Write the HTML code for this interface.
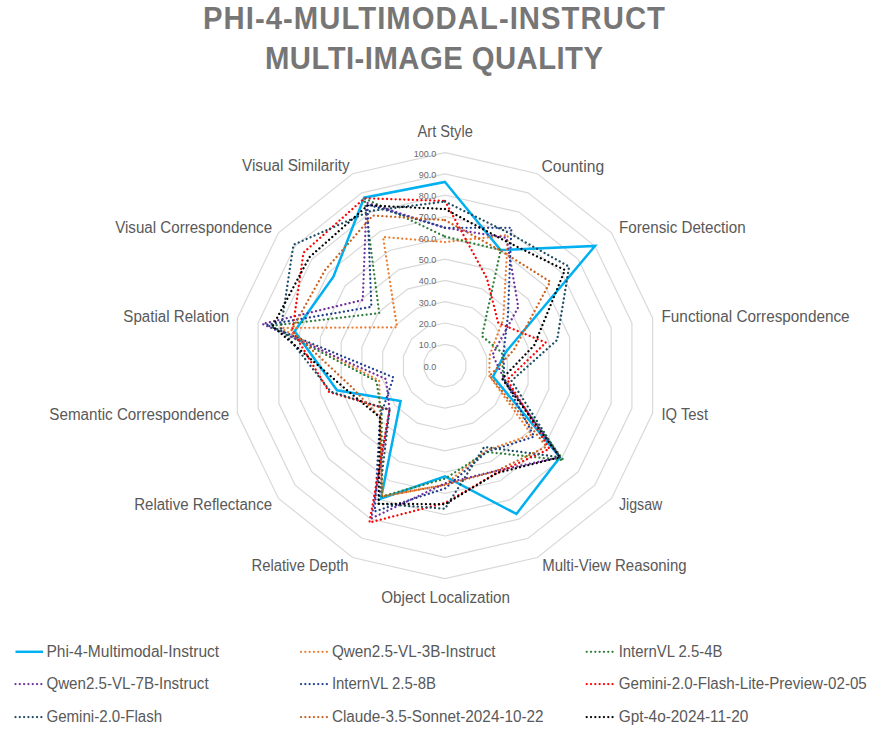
<!DOCTYPE html><html><head><meta charset="utf-8"><style>html,body{margin:0;padding:0;background:#fff;width:873px;height:729px;overflow:hidden}svg{display:block}text{font-family:"Liberation Sans",sans-serif}</style></head><body>
<svg width="873" height="729" viewBox="0 0 873 729">
<rect width="873" height="729" fill="#fff"/>
<text transform="translate(203.0,28.9) scale(0.93,1)" font-size="31.5" font-weight="bold" fill="#767676" textLength="496.77" lengthAdjust="spacing">PHI-4-MULTIMODAL-INSTRUCT</text>
<text transform="translate(265.0,69.3) scale(0.93,1)" font-size="31.5" font-weight="bold" fill="#767676" textLength="363.44" lengthAdjust="spacing">MULTI-IMAGE QUALITY</text>
<polygon points="445.00,344.30 454.24,346.41 461.65,352.32 465.77,360.86 465.77,370.34 461.65,378.88 454.24,384.79 445.00,386.90 435.76,384.79 428.35,378.88 424.23,370.34 424.23,360.86 428.35,352.32 435.76,346.41" fill="none" stroke="#d9d9d9" stroke-width="1.2"/>
<polygon points="445.00,323.00 463.48,327.22 478.31,339.04 486.53,356.12 486.53,375.08 478.31,392.16 463.48,403.98 445.00,408.20 426.52,403.98 411.69,392.16 403.47,375.08 403.47,356.12 411.69,339.04 426.52,327.22" fill="none" stroke="#d9d9d9" stroke-width="1.2"/>
<polygon points="445.00,301.70 472.73,308.03 494.96,325.76 507.30,351.38 507.30,379.82 494.96,405.44 472.73,423.17 445.00,429.50 417.27,423.17 395.04,405.44 382.70,379.82 382.70,351.38 395.04,325.76 417.27,308.03" fill="none" stroke="#d9d9d9" stroke-width="1.2"/>
<polygon points="445.00,280.40 481.97,288.84 511.61,312.48 528.06,346.64 528.06,384.56 511.61,418.72 481.97,442.36 445.00,450.80 408.03,442.36 378.39,418.72 361.94,384.56 361.94,346.64 378.39,312.48 408.03,288.84" fill="none" stroke="#d9d9d9" stroke-width="1.2"/>
<polygon points="445.00,259.10 491.21,269.65 528.27,299.20 548.83,341.90 548.83,389.30 528.27,432.00 491.21,461.55 445.00,472.10 398.79,461.55 361.73,432.00 341.17,389.30 341.17,341.90 361.73,299.20 398.79,269.65" fill="none" stroke="#d9d9d9" stroke-width="1.2"/>
<polygon points="445.00,237.80 500.45,250.46 544.92,285.92 569.60,337.16 569.60,394.04 544.92,445.28 500.45,480.74 445.00,493.40 389.55,480.74 345.08,445.28 320.40,394.04 320.40,337.16 345.08,285.92 389.55,250.46" fill="none" stroke="#d9d9d9" stroke-width="1.2"/>
<polygon points="445.00,216.50 509.69,231.27 561.57,272.64 590.36,332.42 590.36,398.78 561.57,458.56 509.69,499.93 445.00,514.70 380.31,499.93 328.43,458.56 299.64,398.78 299.64,332.42 328.43,272.64 380.31,231.27" fill="none" stroke="#d9d9d9" stroke-width="1.2"/>
<polygon points="445.00,195.20 518.93,212.07 578.22,259.36 611.13,327.68 611.13,403.52 578.22,471.84 518.93,519.13 445.00,536.00 371.07,519.13 311.78,471.84 278.87,403.52 278.87,327.68 311.78,259.36 371.07,212.07" fill="none" stroke="#d9d9d9" stroke-width="1.2"/>
<polygon points="445.00,173.90 528.18,192.88 594.88,246.08 631.89,322.94 631.89,408.26 594.88,485.12 528.18,538.32 445.00,557.30 361.82,538.32 295.12,485.12 258.11,408.26 258.11,322.94 295.12,246.08 361.82,192.88" fill="none" stroke="#d9d9d9" stroke-width="1.2"/>
<polygon points="445.00,152.60 537.42,173.69 611.53,232.80 652.66,318.20 652.66,413.00 611.53,498.40 537.42,557.51 445.00,578.60 352.58,557.51 278.47,498.40 237.34,413.00 237.34,318.20 278.47,232.80 352.58,173.69" fill="none" stroke="#d9d9d9" stroke-width="1.2"/>
<text x="436.3" y="369.50" font-size="9" fill="#6a6a6a" text-anchor="end">0.0</text>
<text x="436.3" y="348.20" font-size="9" fill="#6a6a6a" text-anchor="end">10.0</text>
<text x="436.3" y="326.90" font-size="9" fill="#6a6a6a" text-anchor="end">20.0</text>
<text x="436.3" y="305.60" font-size="9" fill="#6a6a6a" text-anchor="end">30.0</text>
<text x="436.3" y="284.30" font-size="9" fill="#6a6a6a" text-anchor="end">40.0</text>
<text x="436.3" y="263.00" font-size="9" fill="#6a6a6a" text-anchor="end">50.0</text>
<text x="436.3" y="241.70" font-size="9" fill="#6a6a6a" text-anchor="end">60.0</text>
<text x="436.3" y="220.40" font-size="9" fill="#6a6a6a" text-anchor="end">70.0</text>
<text x="436.3" y="199.10" font-size="9" fill="#6a6a6a" text-anchor="end">80.0</text>
<text x="436.3" y="177.80" font-size="9" fill="#6a6a6a" text-anchor="end">90.0</text>
<text x="436.3" y="156.50" font-size="9" fill="#6a6a6a" text-anchor="end">100.0</text>
<text x="417.6" y="137.3" font-size="16" fill="#595959" textLength="55.2" lengthAdjust="spacingAndGlyphs">Art Style</text>
<text x="541.4" y="172.2" font-size="16" fill="#595959" textLength="62.7" lengthAdjust="spacingAndGlyphs">Counting</text>
<text x="619" y="232.9" font-size="16" fill="#595959" textLength="126.6" lengthAdjust="spacingAndGlyphs">Forensic Detection</text>
<text x="661.5" y="321.9" font-size="16" fill="#595959" textLength="188.1" lengthAdjust="spacingAndGlyphs">Functional Correspondence</text>
<text x="661.5" y="420.3" font-size="16" fill="#595959" textLength="46.5" lengthAdjust="spacingAndGlyphs">IQ Test</text>
<text x="619" y="510" font-size="16" fill="#595959" textLength="43.3" lengthAdjust="spacingAndGlyphs">Jigsaw</text>
<text x="542.2" y="570.8" font-size="16" fill="#595959" textLength="144.4" lengthAdjust="spacingAndGlyphs">Multi-View Reasoning</text>
<text x="381.2" y="603.1" font-size="16" fill="#595959" textLength="128.9" lengthAdjust="spacingAndGlyphs">Object Localization</text>
<text x="251.5" y="570.8" font-size="16" fill="#595959" textLength="97.1" lengthAdjust="spacingAndGlyphs">Relative Depth</text>
<text x="134.2" y="510" font-size="16" fill="#595959" textLength="137.9" lengthAdjust="spacingAndGlyphs">Relative Reflectance</text>
<text x="49.3" y="420.3" font-size="16" fill="#595959" textLength="180.0" lengthAdjust="spacingAndGlyphs">Semantic Correspondence</text>
<text x="123.3" y="322.1" font-size="16" fill="#595959" textLength="106.0" lengthAdjust="spacingAndGlyphs">Spatial Relation</text>
<text x="115.2" y="233.2" font-size="16" fill="#595959" textLength="156.9" lengthAdjust="spacingAndGlyphs">Visual Correspondence</text>
<text x="242" y="171.4" font-size="16" fill="#595959" textLength="107.7" lengthAdjust="spacingAndGlyphs">Visual Similarity</text>
<polygon points="445.00,181.99 500.64,250.07 595.04,245.94 506.05,351.67 492.97,376.55 559.91,457.23 516.44,513.94 445.00,476.36 380.95,498.59 400.54,401.06 337.02,390.25 294.65,331.28 333.42,276.62 364.13,197.68" fill="none" stroke="#00B0F0" stroke-width="2.5" stroke-linejoin="miter"/>
<polygon points="445.00,242.06 507.84,235.10 503.29,319.12 489.65,355.41 489.23,375.70 531.60,434.66 485.94,450.61 445.00,484.67 381.97,496.48 380.05,417.39 379.17,380.62 279.91,327.92 397.04,327.35 383.08,237.02" fill="none" stroke="#ED7D31" stroke-width="2.3" stroke-dasharray="0.01 4.3" stroke-linecap="round" stroke-linejoin="round"/>
<polygon points="445.00,236.52 500.73,249.88 481.97,336.12 501.90,352.61 503.14,378.87 563.57,460.16 486.59,451.96 445.00,478.70 381.97,496.48 381.72,416.07 376.47,381.24 270.57,325.79 379.22,313.14 364.41,198.26" fill="none" stroke="#2F7F3A" stroke-width="2.3" stroke-dasharray="0.01 4.3" stroke-linecap="round" stroke-linejoin="round"/>
<polygon points="445.00,227.79 506.55,237.79 518.27,307.17 492.55,354.75 504.18,379.11 559.91,457.23 495.74,470.96 445.00,483.39 371.44,518.36 389.55,409.82 386.02,379.06 262.47,323.94 362.73,300.00 366.54,202.67" fill="none" stroke="#7030A0" stroke-width="2.3" stroke-dasharray="0.01 4.3" stroke-linecap="round" stroke-linejoin="round"/>
<polygon points="445.00,227.79 511.36,227.81 507.95,315.40 503.56,352.23 504.18,379.11 534.09,436.65 486.59,451.96 445.00,488.50 374.76,511.45 380.05,417.39 393.50,377.35 266.41,324.84 371.39,306.90 367.37,204.40" fill="none" stroke="#223F8F" stroke-width="2.3" stroke-dasharray="0.01 4.3" stroke-linecap="round" stroke-linejoin="round"/>
<polygon points="445.00,200.95 486.96,278.47 498.29,323.10 545.92,342.57 507.30,379.82 549.41,448.87 496.75,473.07 445.00,502.99 369.40,522.58 389.55,409.82 329.13,392.05 292.37,330.76 303.45,252.72 364.41,198.26" fill="none" stroke="#FF0000" stroke-width="2.3" stroke-dasharray="0.01 4.3" stroke-linecap="round" stroke-linejoin="round"/>
<polygon points="445.00,201.59 508.86,232.99 569.06,266.66 557.14,340.01 511.45,380.77 559.91,457.23 484.18,446.97 445.00,508.74 378.46,503.77 389.55,409.82 330.79,391.67 280.95,328.16 293.46,244.75 370.51,210.92" fill="none" stroke="#1D4B61" stroke-width="2.3" stroke-dasharray="0.01 4.3" stroke-linecap="round" stroke-linejoin="round"/>
<polygon points="445.00,220.12 500.45,250.46 550.25,281.67 513.94,349.86 489.65,375.79 546.58,446.61 495.83,471.15 445.00,484.88 381.97,496.48 380.05,417.39 351.55,386.93 291.33,330.53 325.10,269.98 372.73,215.53" fill="none" stroke="#C8601E" stroke-width="2.3" stroke-dasharray="0.01 4.3" stroke-linecap="round" stroke-linejoin="round"/>
<polygon points="445.00,209.05 505.07,240.86 564.90,269.98 534.29,345.22 502.11,378.63 559.91,457.23 496.75,473.07 445.00,504.26 378.46,503.77 380.05,417.39 344.91,388.45 272.64,326.26 309.28,257.37 367.83,205.36" fill="none" stroke="#000000" stroke-width="2.3" stroke-dasharray="0.01 4.3" stroke-linecap="round" stroke-linejoin="round"/>
<line x1="15.5" y1="651.8" x2="43" y2="651.8" stroke="#00B0F0" stroke-width="2.5"/>
<text x="46.4" y="656.8" font-size="16" fill="#595959" textLength="172.8" lengthAdjust="spacingAndGlyphs">Phi-4-Multimodal-Instruct</text>
<line x1="301" y1="651.8" x2="330" y2="651.8" stroke="#ED7D31" stroke-width="2.3" stroke-dasharray="0.01 4.3" stroke-linecap="round"/>
<text x="331.9" y="656.8" font-size="16" fill="#595959" textLength="163.6" lengthAdjust="spacingAndGlyphs">Qwen2.5-VL-3B-Instruct</text>
<line x1="586.7" y1="651.8" x2="614.2" y2="651.8" stroke="#2F7F3A" stroke-width="2.3" stroke-dasharray="0.01 4.3" stroke-linecap="round"/>
<text x="618.7" y="656.8" font-size="16" fill="#595959" textLength="103.8" lengthAdjust="spacingAndGlyphs">InternVL 2.5-4B</text>
<line x1="15.5" y1="684.1" x2="43" y2="684.1" stroke="#7030A0" stroke-width="2.3" stroke-dasharray="0.01 4.3" stroke-linecap="round"/>
<text x="46.4" y="689.1" font-size="16" fill="#595959" textLength="162.2" lengthAdjust="spacingAndGlyphs">Qwen2.5-VL-7B-Instruct</text>
<line x1="301" y1="684.1" x2="330" y2="684.1" stroke="#223F8F" stroke-width="2.3" stroke-dasharray="0.01 4.3" stroke-linecap="round"/>
<text x="331.9" y="689.1" font-size="16" fill="#595959" textLength="104.1" lengthAdjust="spacingAndGlyphs">InternVL 2.5-8B</text>
<line x1="586.7" y1="684.1" x2="614.2" y2="684.1" stroke="#FF0000" stroke-width="2.3" stroke-dasharray="0.01 4.3" stroke-linecap="round"/>
<text x="618.7" y="689.1" font-size="16" fill="#595959" textLength="248.1" lengthAdjust="spacingAndGlyphs">Gemini-2.0-Flash-Lite-Preview-02-05</text>
<line x1="15.5" y1="717.1" x2="43" y2="717.1" stroke="#1D4B61" stroke-width="2.3" stroke-dasharray="0.01 4.3" stroke-linecap="round"/>
<text x="46.4" y="722.1" font-size="16" fill="#595959" textLength="115.8" lengthAdjust="spacingAndGlyphs">Gemini-2.0-Flash</text>
<line x1="301" y1="717.1" x2="330" y2="717.1" stroke="#C8601E" stroke-width="2.3" stroke-dasharray="0.01 4.3" stroke-linecap="round"/>
<text x="331.9" y="722.1" font-size="16" fill="#595959" textLength="211.7" lengthAdjust="spacingAndGlyphs">Claude-3.5-Sonnet-2024-10-22</text>
<line x1="586.7" y1="717.1" x2="614.2" y2="717.1" stroke="#000000" stroke-width="2.3" stroke-dasharray="0.01 4.3" stroke-linecap="round"/>
<text x="618.7" y="722.1" font-size="16" fill="#595959" textLength="129.6" lengthAdjust="spacingAndGlyphs">Gpt-4o-2024-11-20</text>
</svg></body></html>
